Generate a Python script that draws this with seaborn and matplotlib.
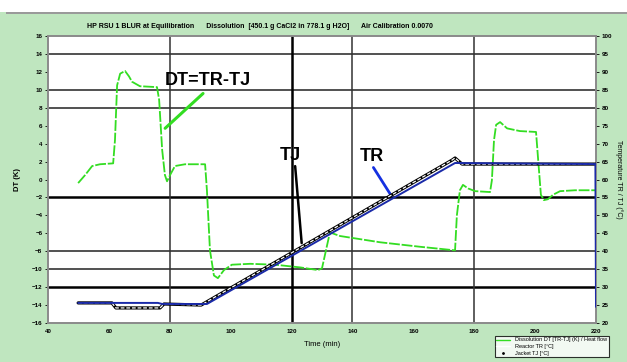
import matplotlib
matplotlib.use("Agg")
import matplotlib.pyplot as plt
import seaborn as sns
from matplotlib.lines import Line2D

# --- data --------------------------------------------------------------
time_ticks = [40, 60, 80, 100, 120, 140, 160, 180, 200, 220]
dt_ticks = list(range(-16, 17, 2))
temp_ticks = list(range(20, 101, 5))

# DT = TR - TJ  (left axis, K)
dt_time = [49.9, 52.2, 54.5, 57.1, 61.4, 62.0, 62.7, 63.7, 65.3, 66.6, 67.6, 70.2,
           75.8, 76.5, 77.5, 78.4, 79.1, 80.1, 81.7, 85.0, 91.6, 92.2, 93.2, 94.5,
           95.8, 97.8, 100.4, 106.4, 114.6, 122.8, 128.7, 130.0, 131.3, 132.6,
           135.9, 149.1, 162.2, 173.7, 174.3, 175.3, 176.3, 178.0, 180.3, 185.2,
           185.8, 186.5, 187.2, 188.5, 190.8, 195.0, 200.3, 201.0, 201.9, 202.9,
           204.2, 205.9, 208.2, 213.1, 220.0]
dt_value = [-0.4, 0.5, 1.5, 1.7, 1.8, 4.4, 10.5, 11.8, 12.1, 11.5, 10.9, 10.4,
            10.3, 8.9, 3.3, 0.5, -0.2, 0.5, 1.5, 1.7, 1.7, -1.2, -7.9, -10.7,
            -11.0, -10.1, -9.5, -9.4, -9.5, -9.8, -10.1, -9.9, -7.9, -5.9,
            -6.3, -7.0, -7.5, -7.9, -4.0, -1.2, -0.6, -1.0, -1.3, -1.4,
            -0.1, 4.4, 6.1, 6.4, 5.7, 5.4, 5.3, 2.2, -1.7, -2.3,
            -2.2, -1.7, -1.3, -1.2, -1.2]

# TR reactor temperature (right axis, degC)
tr_time = [49.9, 76.1, 77.5, 91.6, 92.2, 173.7, 219.8, 220.0]
tr_value = [25.6, 25.6, 25.3, 25.3, 25.3, 64.6, 64.3, 24.5]

# TJ jacket temperature (right axis, degC)
tj_time = [49.9, 61.0, 62.3, 76.8, 78.1, 90.3, 172.7, 173.7, 176.0, 219.8]
tj_value = [25.6, 25.6, 24.2, 24.2, 25.3, 25.0, 65.4, 66.0, 64.3, 64.3]

grid_dt_thin = [14, 10, 8, -8, -10]
grid_dt_thick = [-2, -12]
grid_time_thin = [80, 140, 180]
grid_time_thick = [120]

title = ("HP RSU 1 BLUR at Equilibration      Dissolution  [450.1 g CaCl2 in 778.1 g H2O]"
         "      Air Calibration 0.0070")
legend_labels = ["Dissolution DT [TR-TJ] (K) / Heat flow", "Reactor TR [°C]", "Jacket TJ [°C]"]

# --- plot ----------------------------------------------------------------
sns.set_style("white")
plt.rcParams["font.family"] = ["Liberation Sans", "DejaVu Sans"]
plt.rcParams["text.color"] = "black"
plt.rcParams["axes.labelcolor"] = "black"

bg = "#bfe6bf"
green = "#33dd22"
blue = "#1a2aa8"

fig = plt.figure(figsize=(6.27, 3.62), dpi=100, facecolor=bg)
ax = fig.add_axes([48 / 627, 1 - 323 / 362, 548 / 627, 287 / 362])
ax.set_facecolor("white")
ax2 = ax.twinx()

# white strip and grey bar at the very top of the scan
fig.patches.append(plt.Rectangle((0, 1 - 12 / 362), 1, 12 / 362, transform=fig.transFigure,
                                 facecolor="white", edgecolor="none", zorder=-1))
fig.patches.append(plt.Rectangle((0.01, 1 - 14 / 362), 0.99, 2.5 / 362, transform=fig.transFigure,
                                 facecolor="#9a9a9a", edgecolor="none", zorder=-1))

for v in grid_dt_thin:
    ax.axhline(v, color="#222222", lw=1.1, zorder=1)
for v in grid_dt_thick:
    ax.axhline(v, color="black", lw=1.8, zorder=1)
for v in grid_time_thin:
    ax.axvline(v, color="#333333", lw=1.1, zorder=1)
for v in grid_time_thick:
    ax.axvline(v, color="black", lw=1.8, zorder=1)

sns.lineplot(x=dt_time, y=dt_value, ax=ax, color=green, lw=1.3, sort=False,
             linestyle=(0, (6, 1)), zorder=3)
sns.lineplot(x=tj_time, y=tj_value, ax=ax2, color="black", lw=2.3, sort=False, zorder=3)
sns.lineplot(x=tj_time, y=tj_value, ax=ax2, color="white", lw=0.9, sort=False,
             linestyle=(0, (3, 1.5)), zorder=4)
sns.lineplot(x=tr_time, y=tr_value, ax=ax2, color=blue, lw=1.4, sort=False, zorder=5)

ax.set_xlim(40, 220)
ax.set_ylim(-16, 16)
ax2.set_ylim(20, 100)
ax.set_xticks(time_ticks)
ax.set_yticks(dt_ticks)
ax2.set_yticks(temp_ticks)
ax.grid(False)
ax2.grid(False)

for a in (ax, ax2):
    a.tick_params(labelsize=4.5, length=2, width=0.6, pad=2, colors="black")
    for s in a.spines.values():
        s.set_color("#8a8a8a")
        s.set_linewidth(1.2)
for lab in ax.get_xticklabels() + ax.get_yticklabels() + ax2.get_yticklabels():
    lab.set_fontweight("bold")

ax.set_xlabel("Time (min)", fontsize=5.5, labelpad=5)
ax.set_ylabel("DT (K)", fontsize=5.5, labelpad=8, fontweight="bold")
ax2.set_ylabel("Temperature TR / TJ (°C)", fontsize=5, rotation=270, labelpad=8)

fig.text(87 / 627, 1 - 27 / 362, title, fontsize=5, fontweight="bold", va="center")

# callouts
big = dict(fontsize=13, fontweight="bold", color="black",
           family=["Liberation Sans Narrow", "Liberation Sans", "DejaVu Sans"])
ax.text(78.4, 10.5, "DT=TR-TJ", **big, zorder=6)
ax.annotate("", xy=(77.8, 5.5), xytext=(91.6, 9.8),
            arrowprops=dict(arrowstyle="-", color=green, lw=2.2), zorder=6)
ax.text(116.2, 2.2, "TJ", **big, zorder=6)
ax.annotate("", xy=(123.4, -7.4), xytext=(121.1, 1.8),
            arrowprops=dict(arrowstyle="-", color="black", lw=1.8), zorder=6)
ax.text(142.5, 2.1, "TR", **big, zorder=6)
ax.annotate("", xy=(153.3, -2.1), xytext=(146.4, 1.6),
            arrowprops=dict(arrowstyle="-", color="#1530e0", lw=2.0), zorder=6)

handles = [Line2D([], [], color=green, lw=1),
           Line2D([], [], color="white", lw=1),
           Line2D([], [], color="black", lw=0, marker=".", markersize=2)]
leg = fig.legend(handles, legend_labels, loc="upper left",
                 bbox_to_anchor=(492 / 627, 1 - 333 / 362), fontsize=4,
                 frameon=True, fancybox=False, borderpad=0.3, labelspacing=0.3,
                 handlelength=2.5)
leg.get_frame().set_edgecolor("black")
leg.get_frame().set_linewidth(0.8)

fig.savefig("out.png", dpi=100, facecolor=bg)
